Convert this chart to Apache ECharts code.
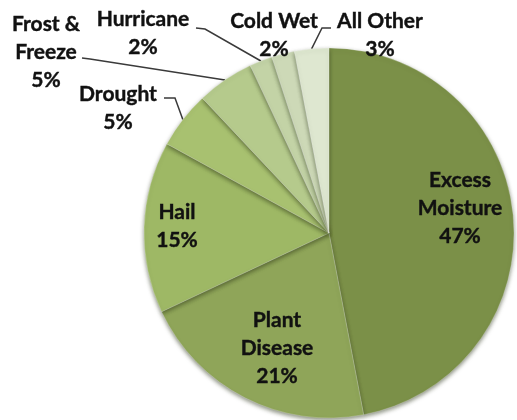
<!DOCTYPE html>
<html>
<head>
<meta charset="utf-8">
<script src="https://cdn.jsdelivr.net/npm/echarts@6/dist/echarts.min.js"></script>
<style>
html,body{margin:0;padding:0;background:#fff;}
#chart{width:517px;height:420px;}
</style>
</head>
<body>
<div id="chart"></div>
<script>
// Data
var categories = ["Excess\nMoisture", "Plant\nDisease", "Hail", "Drought", "Frost &\nFreeze", "Hurricane", "Cold Wet", "All Other"];
var values = [47, 21, 15, 5, 5, 2, 2, 3];

// Styling (colors and label placement)
var colors = ["#7b9048", "#8fa559", "#9eb865", "#a8c170", "#b5ca8c", "#c3d3a6", "#cdd9b7", "#dee7d0"];
// label anchor [x, y] in px, and optional leader bend/end points
var labelPos = [
  {x: 460, y: 208},
  {x: 277, y: 348},
  {x: 177, y: 226},
  {x: 118, y: 108, line: [[175, 98], [164, 98]]},
  {x: 46, y: 52, line: [[90, 59], [82, 58]]},
  {x: 143, y: 33, line: [[205, 29], [196, 28]]},
  {x: 274, y: 35},
  {x: 380, y: 35, line: [[322, 28], [331, 28]]}
];

var chart = echarts.init(document.getElementById('chart'), null, {renderer: 'canvas'});

var data = categories.map(function (c, i) {
  var hasLine = !!labelPos[i].line;
  return {
    name: c,
    value: values[i],
    itemStyle: {color: colors[i]},
    label: {position: (i < 3) ? 'inside' : 'outside'},
    labelLine: {show: hasLine}
  };
});

chart.setOption({
  animation: false,
  backgroundColor: '#ffffff',
  series: [{
    type: 'pie',
    center: [329, 233],
    radius: [0, 185],
    startAngle: 90,
    clockwise: true,
    avoidLabelOverlap: false,
    data: data,
    itemStyle: {
      borderColor: 'rgba(255,255,255,0.35)',
      borderWidth: 0.6,
      shadowBlur: 4,
      shadowOffsetY: 2,
      shadowColor: 'rgba(40,50,20,0.55)'
    },
    label: {
      show: true,
      formatter: function (p) { return p.name + '\n' + p.value + '%'; },
      fontFamily: 'Lato',
      fontWeight: 'bold',
      fontSize: 21,
      lineHeight: 28,
      color: '#111111',
      textBorderColor: '#111111',
      textBorderWidth: 0.4,
      align: 'center'
    },
    labelLine: {
      lineStyle: {color: '#3a3a3a', width: 1.5},
      length: 10,
      length2: 10
    },
    labelLayout: function (params) {
      var i = params.dataIndex;
      var lp = labelPos[i];
      var out = {x: lp.x, y: lp.y, align: 'center', verticalAlign: 'middle'};
      if (lp.line && params.labelLinePoints) {
        var p0 = params.labelLinePoints[0];
        out.labelLinePoints = [p0, lp.line[0], lp.line[1]];
      }
      return out;
    }
  }]
});
</script>
</body>
</html>
